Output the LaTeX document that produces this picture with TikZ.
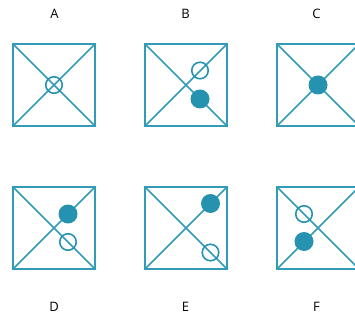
\documentclass[tikz,border=0pt]{standalone}
\usepackage{fontspec}
\setmainfont{Open Sans}
\definecolor{teal1}{RGB}{37,147,176}
\definecolor{teal2}{RGB}{50,156,184}
\begin{document}
\begin{tikzpicture}[x=1pt,y=-1pt,
  box/.style={draw=teal2,line width=2pt},
  diag/.style={draw=teal2,line width=1.7pt},
  ring/.style={draw=teal1,line width=1.6pt,circle,minimum size=16.5pt,inner sep=0pt},
  dot/.style={fill=teal1,circle,minimum size=19pt,inner sep=0pt},
  lab/.style={font=\fontsize{13}{15}\selectfont,text=black}]
\useasboundingbox (0,0) rectangle (355,320);
% panel centres
\foreach \n/\x/\y in {A/54/85, B/186/85, C/318/85, D/54/228, E/186/228, F/318/228}{
  \coordinate (c\n) at (\x,\y);
  \coordinate (nw\n) at (\x-41,\y-41);
  \coordinate (ne\n) at (\x+41,\y-41);
  \coordinate (sw\n) at (\x-41,\y+41);
  \coordinate (se\n) at (\x+41,\y+41);
  \draw[diag] (nw\n) -- (se\n);
  \draw[diag] (sw\n) -- (ne\n);
  \draw[box] (nw\n) rectangle (se\n);
}
% labels
\node[lab] (lA) at (54.5,14) {A};
\node[lab] (lB) at (185.5,14) {B};
\node[lab] (lC) at (316.5,14) {C};
\node[lab] (lD) at (54,307) {D};
\node[lab] (lE) at (185.5,307) {E};
\node[lab] (lF) at (316.5,307) {F};
% markers
\node[ring] (rA) at (cA) {};
\node[ring] (rB) at ([shift={(14,-14.5)}]cB) {};
\node[dot]  (fB) at ([shift={(14,14)}]cB) {};
\node[dot]  (fC) at (cC) {};
\node[dot]  (fD) at ([shift={(14,-14)}]cD) {};
\node[ring] (rD) at ([shift={(14,14)}]cD) {};
\node[dot]  (fE) at ([shift={(24.5,-24.5)}]cE) {};
\node[ring] (rE) at ([shift={(24.5,24.5)}]cE) {};
\node[ring] (rF) at ([shift={(-14,-14)}]cF) {};
\node[dot]  (fF) at ([shift={(-14,13.5)}]cF) {};
\end{tikzpicture}
\end{document}
